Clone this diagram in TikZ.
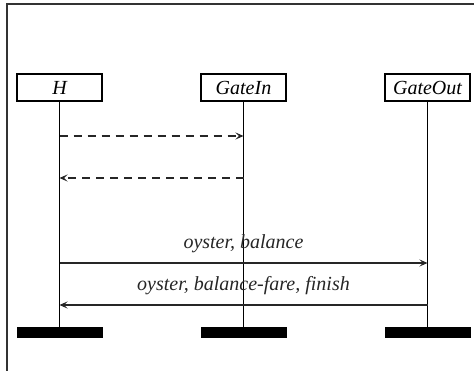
\documentclass[tikz,border=0pt]{standalone}
\usepackage{fontspec}
\setmainfont{Liberation Serif}
\usepackage{tikz}
\usetikzlibrary{arrows.meta, positioning}

\begin{document}
\begin{tikzpicture}[
    x=1pt, y=-1pt,
    actor/.style={rectangle, draw=black, line width=1.2pt, minimum width=85pt, minimum height=27pt, inner sep=0pt, font=\fontsize{20}{24}\selectfont\itshape},
    lifeend/.style={rectangle, fill=black, minimum width=86pt, minimum height=11pt, inner sep=0pt},
    life/.style={line width=1.8pt, black},
    msg/.style={-{Stealth[length=8pt, width=7pt, inset=3.5pt]}, line width=1.2pt, black!85},
    dashmsg/.style={msg, dash pattern=on 8pt off 6pt},
    msglabel/.style={anchor=base, yshift=14pt, font=\fontsize{20}{24}\selectfont\itshape},
]
\useasboundingbox (0,0) rectangle (474,371);
\clip (0,0) rectangle (474,371);
\draw[line width=1.8pt, black!80] (7,4) rectangle (500,400);

% participants
\node[actor] (h) at (59.5,87.5) {H};
\node[actor] (gin) at (243.5,87.5) {GateIn};
\node[actor] (gout) at (427.5,87.5) {GateOut};

% end of each lifeline
\node[lifeend, below=225pt of h] (hEnd) {};
\node[lifeend, below=225pt of gin] (ginEnd) {};
\node[lifeend, below=225pt of gout] (goutEnd) {};

\draw[life] (h.south) -- (hEnd.north);
\draw[life] (gin.south) -- (ginEnd.north);
\draw[life] (gout.south) -- (goutEnd.north);

% message heights
\coordinate (m1) at (0,136);
\coordinate (m2) at (0,178);
\coordinate (m3) at (0,263);
\coordinate (m4) at (0,305);

\draw[dashmsg] (h |- m1) -- (gin |- m1);
\draw[dashmsg] (gin |- m2) -- (h |- m2);
\draw[msg] (h |- m3) -- node[msglabel] {oyster, balance} (gout |- m3);
\draw[msg] (gout |- m4) -- node[msglabel] {oyster, balance-fare, finish} (h |- m4);
\end{tikzpicture}
\end{document}
